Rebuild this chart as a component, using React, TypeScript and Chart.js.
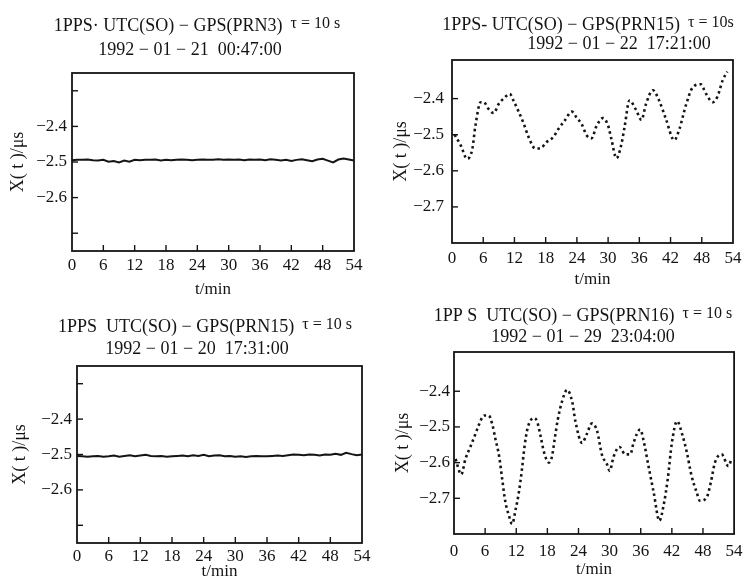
import React, { useEffect, useRef } from "react";
import { Chart, registerables } from "chart.js";

Chart.register(...registerables);

const FONT = "'Liberation Serif', 'Times New Roman', Times, serif";
const INK = "#141414";

// ---------- data ----------
const minuteTicks = [0, 6, 12, 18, 24, 30, 36, 42, 48, 54];

const flatTime = [
  0, 1, 2, 3, 4, 5, 6, 7, 8, 9, 10, 11, 12, 13, 14, 15, 16, 17, 18, 19, 20, 21, 22, 23, 24, 25, 26,
  27, 28, 29, 30, 31, 32, 33, 34, 35, 36, 37, 38, 39, 40, 41, 42, 43, 44, 45, 46, 47, 48, 49, 50, 51,
  52, 53, 54,
];

// Panel 1: PRN3, 1992-01-21
const prn3Values = [
  -2.495, -2.494, -2.494, -2.493, -2.495, -2.496, -2.494, -2.499, -2.497, -2.501, -2.496, -2.499,
  -2.494, -2.495, -2.494, -2.494, -2.493, -2.496, -2.494, -2.495, -2.494, -2.493, -2.494, -2.495,
  -2.494, -2.493, -2.494, -2.494, -2.492, -2.494, -2.493, -2.494, -2.493, -2.495, -2.493, -2.494,
  -2.493, -2.495, -2.492, -2.494, -2.496, -2.494, -2.497, -2.494, -2.492, -2.495, -2.498, -2.493,
  -2.491, -2.496, -2.501, -2.493, -2.49, -2.493, -2.496,
];

// Panel 2: PRN15, 1992-01-22
const prn15bTime = [
  0.5, 1.7, 2.9, 3.9, 4.5, 5.5, 6.1, 7.1, 8.0, 9.0, 9.9, 11.1, 11.8, 12.8, 13.8, 14.7, 16.0, 16.9,
  18.2, 19.5, 20.4, 21.7, 23.0, 24.0, 24.9, 25.9, 26.8, 27.8, 29.0, 30.0, 30.6, 31.6, 32.5, 33.2,
  34.1, 35.4, 36.4, 37.3, 38.6, 39.8, 41.1, 42.7, 43.7, 45.0, 46.2, 47.8, 48.8, 50.1, 51.0, 52.0,
  52.9,
];
const prn15bValues = [
  -2.5, -2.53, -2.567, -2.54, -2.475, -2.41, -2.41, -2.43, -2.44, -2.414, -2.4, -2.387, -2.405,
  -2.436, -2.47, -2.506, -2.538, -2.538, -2.52, -2.506, -2.485, -2.46, -2.436, -2.454, -2.47,
  -2.502, -2.51, -2.475, -2.454, -2.475, -2.51, -2.565, -2.53, -2.475, -2.405, -2.432, -2.459,
  -2.414, -2.377, -2.405, -2.456, -2.515, -2.484, -2.416, -2.37, -2.36, -2.386, -2.41, -2.395,
  -2.35, -2.325,
];

// Panel 3: PRN15, 1992-01-20
const prn15aValues = [
  -2.504, -2.505, -2.506, -2.505, -2.504, -2.506, -2.505, -2.503, -2.506, -2.504, -2.502, -2.505,
  -2.503, -2.501, -2.504, -2.505, -2.504, -2.506, -2.505, -2.504, -2.503, -2.505, -2.502, -2.504,
  -2.501, -2.505, -2.503, -2.502, -2.505, -2.504, -2.506, -2.505, -2.507, -2.505, -2.504, -2.505,
  -2.505, -2.504, -2.503, -2.504, -2.502, -2.5, -2.501, -2.502, -2.5, -2.501, -2.503, -2.5, -2.501,
  -2.498, -2.501, -2.495, -2.499, -2.502, -2.5,
];

// Panel 4: PRN16, 1992-01-29
const prn16Time = [
  0.3, 1.4, 2.2, 3.2, 4.2, 4.8, 5.8, 6.7, 7.4, 8.0, 8.7, 9.3, 9.9, 10.6, 11.2, 11.9, 12.5, 13.1,
  13.6, 14.2, 15.4, 16.0, 16.7, 17.3, 18.3, 18.9, 19.4, 20.0, 20.8, 21.8, 22.8, 23.4, 24.7, 25.6,
  26.6, 27.6, 28.5, 29.5, 30.0, 30.8, 31.9, 33.0, 34.0, 34.6, 35.9, 36.5, 37.5, 38.5, 39.6, 40.4,
  41.2, 42.0, 43.0, 44.1, 44.9, 45.8, 46.8, 47.4, 48.7, 49.5, 50.3, 51.6, 52.9, 53.5,
];
const prn16Values = [
  -2.59, -2.633, -2.59, -2.554, -2.517, -2.494, -2.468, -2.468, -2.494, -2.535, -2.582, -2.647,
  -2.71, -2.749, -2.772, -2.73, -2.684, -2.619, -2.554, -2.503, -2.475, -2.484, -2.526, -2.568,
  -2.6, -2.582, -2.535, -2.48, -2.43, -2.396, -2.43, -2.484, -2.545, -2.52, -2.49, -2.512, -2.577,
  -2.605, -2.623, -2.582, -2.556, -2.577, -2.577, -2.545, -2.507, -2.535, -2.61, -2.684, -2.763,
  -2.72, -2.647, -2.545, -2.484, -2.526, -2.572, -2.637, -2.684, -2.707, -2.698, -2.656, -2.6,
  -2.577, -2.61, -2.59,
];

const flatYTicks = [-2.7, -2.6, -2.5, -2.4, -2.3];
const flatYLabels = [-2.6, -2.5, -2.4];
const wavyYTicks = [-2.7, -2.6, -2.5, -2.4];
const wavyYLabels = [-2.7, -2.6, -2.5, -2.4];

// ---------- panel layout ----------
type Spec = {
  times: number[];
  values: number[];
  yMin: number;
  yMax: number;
  yTicks: number[];
  yLabels: number[];
  line1: string;
  tau: string;
  line2: string;
  l1x: number;
  l1y: number;
  l2x: number;
  l2y: number;
  pad: { left: number; top: number; right: number; bottom: number };
  yWidth: number;
  xHeight: number;
  yTickPad: number;
  xTickPad: number;
  dotted: boolean;
};

const panels: Spec[] = [
  {
    times: flatTime,
    values: prn3Values,
    yMin: -2.75,
    yMax: -2.25,
    yTicks: flatYTicks,
    yLabels: flatYLabels,
    line1: "1PPS· UTC(SO) − GPS(PRN3)",
    tau: "τ = 10 s",
    line2: "1992 − 01 − 21  00:47:00",
    l1x: 197,
    l1y: 26,
    l2x: 190,
    l2y: 50,
    pad: { left: 7.2, top: 73, right: 396, bottom: 287.8 },
    yWidth: 64.8,
    xHeight: 49.2,
    yTickPad: 5,
    xTickPad: 4.4,
    dotted: false,
  },
  {
    times: prn15bTime,
    values: prn15bValues,
    yMin: -2.8,
    yMax: -2.293,
    yTicks: wavyYTicks,
    yLabels: wavyYLabels,
    line1: "1PPS- UTC(SO) − GPS(PRN15)",
    tau: "τ = 10s",
    line2: "1992 − 01 − 22  17:21:00",
    l1x: 588,
    l1y: 25,
    l2x: 619,
    l2y: 44,
    pad: { left: 390.2, top: 60, right: 17, bottom: 297.8 },
    yWidth: 61.8,
    xHeight: 47.2,
    yTickPad: 8,
    xTickPad: 5.4,
    dotted: true,
  },
  {
    times: flatTime,
    values: prn15aValues,
    yMin: -2.75,
    yMax: -2.25,
    yTicks: flatYTicks,
    yLabels: flatYLabels,
    line1: "1PPS  UTC(SO) − GPS(PRN15)",
    tau: "τ = 10 s",
    line2: "1992 − 01 − 20  17:31:00",
    l1x: 205,
    l1y: 327,
    l2x: 197,
    l2y: 349,
    pad: { left: 9.2, top: 366, right: 388, bottom: 6.6 },
    yWidth: 67.8,
    xHeight: 38.4,
    yTickPad: 5,
    xTickPad: 3.4,
    dotted: false,
  },
  {
    times: prn16Time,
    values: prn16Values,
    yMin: -2.8,
    yMax: -2.29,
    yTicks: wavyYTicks,
    yLabels: wavyYLabels,
    line1: "1PP S  UTC(SO) − GPS(PRN16)",
    tau: "τ = 10 s",
    line2: "1992 − 01 − 29  23:04:00",
    l1x: 583,
    l1y: 316,
    l2x: 583,
    l2y: 337,
    pad: { left: 392.2, top: 352, right: 13, bottom: 7.8 },
    yWidth: 61.8,
    xHeight: 46.2,
    yTickPad: 4,
    xTickPad: 7.4,
    dotted: true,
  },
];

const framePlugin = {
  id: "frame",
  afterDraw(chart: any, _args: any, opts: any) {
    const { ctx, chartArea: a, scales } = chart;
    ctx.save();
    ctx.strokeStyle = INK;
    ctx.lineWidth = 1.8;
    ctx.strokeRect(a.left, a.top, a.right - a.left, a.bottom - a.top);
    ctx.lineWidth = 1.4;
    scales.y.ticks.forEach((t: any) => {
      const py = scales.y.getPixelForValue(t.value);
      ctx.beginPath();
      ctx.moveTo(a.left, py);
      ctx.lineTo(a.left + 6, py);
      ctx.stroke();
    });
    scales.x.ticks.forEach((t: any) => {
      if (t.value <= scales.x.min || t.value >= scales.x.max) return;
      const px = scales.x.getPixelForValue(t.value);
      ctx.beginPath();
      ctx.moveTo(px, a.bottom);
      ctx.lineTo(px, a.bottom - 6);
      ctx.stroke();
    });
    // panel titles
    ctx.fillStyle = INK;
    ctx.textBaseline = "middle";
    ctx.font = `18px ${FONT}`;
    const w1 = ctx.measureText(opts.line1).width;
    ctx.font = `16px ${FONT}`;
    const w2 = ctx.measureText(opts.tau).width;
    const gap = 8;
    const x0 = opts.l1x - (w1 + gap + w2) / 2;
    ctx.textAlign = "left";
    ctx.font = `18px ${FONT}`;
    ctx.fillText(opts.line1, x0, opts.l1y);
    ctx.font = `16px ${FONT}`;
    ctx.fillText(opts.tau, x0 + w1 + gap, opts.l1y - 2);
    ctx.textAlign = "center";
    ctx.font = `18px ${FONT}`;
    ctx.fillText(opts.line2, opts.l2x, opts.l2y);
    ctx.restore();
  },
};

const fmt = (v: number) => "−" + Math.abs(v).toFixed(1);

function Panel({ spec }: { spec: Spec }) {
  const ref = useRef<HTMLCanvasElement | null>(null);
  useEffect(() => {
    if (!ref.current) return;
    const chart = new Chart(ref.current, {
      type: "line",
      data: {
        datasets: [
          {
            data: spec.times.map((t, i) => ({ x: t, y: spec.values[i] })),
            borderColor: INK,
            borderWidth: spec.dotted ? 2.6 : 2,
            borderDash: spec.dotted ? [2.5, 3.2] : [],
            pointRadius: 0,
            fill: false,
            tension: spec.dotted ? 0.4 : 0,
            cubicInterpolationMode: spec.dotted ? "monotone" : "default",
          },
        ],
      },
      options: {
        responsive: false,
        animation: false,
        layout: { padding: spec.pad },
        plugins: {
          legend: { display: false },
          tooltip: { enabled: false },
          title: { display: false },
          frame: {
            line1: spec.line1,
            tau: spec.tau,
            line2: spec.line2,
            l1x: spec.l1x,
            l1y: spec.l1y,
            l2x: spec.l2x,
            l2y: spec.l2y,
          },
        } as any,
        scales: {
          x: {
            type: "linear",
            min: 0,
            max: 54,
            grid: { display: false, drawTicks: false },
            border: { display: false },
            afterBuildTicks: (s: any) => {
              s.ticks = minuteTicks.map((v) => ({ value: v }));
            },
            afterFit: (s: any) => {
              s.height = spec.xHeight;
            },
            ticks: {
              autoSkip: false,
              maxRotation: 0,
              padding: spec.xTickPad,
              color: INK,
              font: { family: FONT, size: 17 },
            },
            title: {
              display: true,
              text: "t/min",
              color: INK,
              padding: 0,
              font: { family: FONT, size: 17 },
            },
          },
          y: {
            type: "linear",
            min: spec.yMin,
            max: spec.yMax,
            grid: { display: false, drawTicks: false },
            border: { display: false },
            afterBuildTicks: (s: any) => {
              s.ticks = spec.yTicks.map((v) => ({ value: v }));
            },
            afterFit: (s: any) => {
              s.width = spec.yWidth;
            },
            ticks: {
              padding: spec.yTickPad,
              color: INK,
              font: { family: FONT, size: 17 },
              callback: (v: any) =>
                spec.yLabels.some((l) => Math.abs(l - Number(v)) < 1e-6) ? fmt(Number(v)) : "",
            },
            title: {
              display: true,
              text: "X( t )/μs",
              color: INK,
              padding: 0,
              font: { family: FONT, size: 18 },
            },
          },
        },
      },
      plugins: [framePlugin as any],
    });
    return () => chart.destroy();
  }, [spec]);
  return (
    <canvas
      ref={ref}
      width={750}
      height={588}
      style={{ position: "absolute", left: 0, top: 0, width: 750, height: 588 }}
    />
  );
}

export default function App() {
  return (
    <div
      style={{
        position: "absolute",
        left: 0,
        top: 0,
        width: 750,
        height: 588,
        overflow: "hidden",
        background: "#ffffff",
      }}
    >
      {panels.map((p, i) => (
        <Panel key={i} spec={p} />
      ))}
    </div>
  );
}
